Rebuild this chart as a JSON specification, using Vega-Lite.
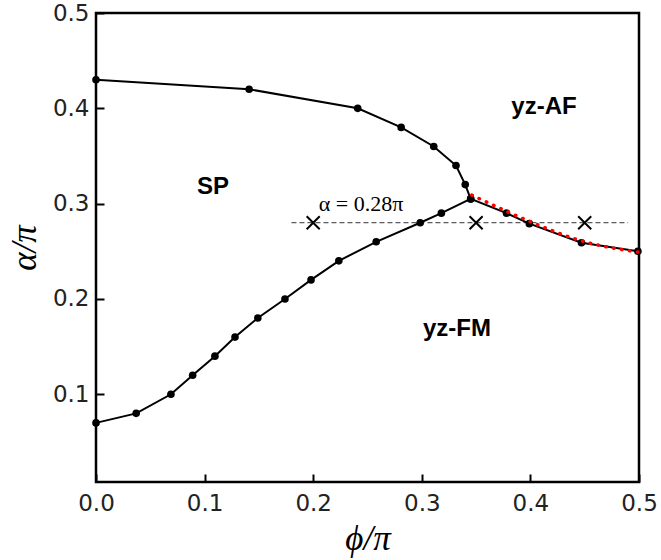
{
  "$schema": "https://vega.github.io/schema/vega-lite/v6.json",
  "width": 543,
  "height": 469,
  "autosize": {"type": "none"},
  "padding": {"left": 96, "top": 13, "right": 22, "bottom": 78},
  "background": "white",
  "config": {
    "view": {"stroke": "black", "strokeWidth": 2.5},
    "axis": {
      "grid": false,
      "domain": false,
      "tickSize": -8,
      "tickWidth": 2,
      "tickColor": "black",
      "labelFont": "DejaVu Sans",
      "labelFontSize": 23,
      "labelColor": "#222222",
      "labelFlush": false,
      "labelOverlap": false,
      "titleFont": "Liberation Serif",
      "titleFontStyle": "italic",
      "titleFontWeight": "normal",
      "titleFontSize": 35,
      "titleColor": "black"
    }
  },
  "datasets": {
    "boundary": [
      {"branch": "upper", "phi": 0.0, "alpha": 0.43},
      {"branch": "upper", "phi": 0.141, "alpha": 0.42},
      {"branch": "upper", "phi": 0.241, "alpha": 0.40},
      {"branch": "upper", "phi": 0.281, "alpha": 0.38},
      {"branch": "upper", "phi": 0.311, "alpha": 0.36},
      {"branch": "upper", "phi": 0.3315, "alpha": 0.34},
      {"branch": "upper", "phi": 0.340, "alpha": 0.32},
      {"branch": "upper", "phi": 0.345, "alpha": 0.305},
      {"branch": "lower", "phi": 0.0, "alpha": 0.07},
      {"branch": "lower", "phi": 0.037, "alpha": 0.08},
      {"branch": "lower", "phi": 0.069, "alpha": 0.10},
      {"branch": "lower", "phi": 0.089, "alpha": 0.12},
      {"branch": "lower", "phi": 0.1095, "alpha": 0.14},
      {"branch": "lower", "phi": 0.128, "alpha": 0.16},
      {"branch": "lower", "phi": 0.149, "alpha": 0.18},
      {"branch": "lower", "phi": 0.174, "alpha": 0.20},
      {"branch": "lower", "phi": 0.198, "alpha": 0.22},
      {"branch": "lower", "phi": 0.2236, "alpha": 0.24},
      {"branch": "lower", "phi": 0.258, "alpha": 0.26},
      {"branch": "lower", "phi": 0.2985, "alpha": 0.28},
      {"branch": "lower", "phi": 0.318, "alpha": 0.29},
      {"branch": "lower", "phi": 0.345, "alpha": 0.305},
      {"branch": "lower", "phi": 0.378, "alpha": 0.29},
      {"branch": "lower", "phi": 0.399, "alpha": 0.279},
      {"branch": "lower", "phi": 0.447, "alpha": 0.259},
      {"branch": "lower", "phi": 0.499, "alpha": 0.25}
    ],
    "fit": [
      {"phi": 0.346, "alpha": 0.309},
      {"phi": 0.378, "alpha": 0.292},
      {"phi": 0.40, "alpha": 0.281},
      {"phi": 0.447, "alpha": 0.261},
      {"phi": 0.5, "alpha": 0.249}
    ],
    "cuts": [
      {"phi": 0.2, "alpha": 0.28},
      {"phi": 0.35, "alpha": 0.28},
      {"phi": 0.45, "alpha": 0.28}
    ],
    "guide": [
      {"phi": 0.18, "phi2": 0.49, "alpha": 0.28}
    ],
    "regions": [
      {"label": "SP", "phi": 0.1077, "alpha": 0.317},
      {"label": "yz-AF", "phi": 0.4125, "alpha": 0.401},
      {"label": "yz-FM", "phi": 0.3324, "alpha": 0.168}
    ],
    "note": [
      {"label": "α = 0.28π", "phi": 0.244, "alpha": 0.3}
    ]
  },
  "encoding": {
    "x": {
      "field": "phi",
      "type": "quantitative",
      "scale": {"domain": [0, 0.5], "nice": false, "zero": false},
      "axis": {"values": [0, 0.1, 0.2, 0.3, 0.4, 0.5], "format": ".1f", "labelPadding": 18, "title": "ϕ/π", "titlePadding": 6}
    },
    "y": {
      "field": "alpha",
      "type": "quantitative",
      "scale": {"domain": [0.008, 0.5], "nice": false, "zero": false},
      "axis": {"values": [0.1, 0.2, 0.3, 0.4, 0.5], "format": ".1f", "labelPadding": 15, "title": "α/π", "titlePadding": 10}
    }
  },
  "layer": [
    {
      "data": {"name": "guide"},
      "mark": {"type": "rule", "color": "#333333", "strokeWidth": 1, "strokeDash": [5, 3]},
      "encoding": {"x2": {"field": "phi2"}}
    },
    {
      "data": {"name": "boundary"},
      "mark": {"type": "line", "color": "black", "strokeWidth": 2, "point": {"filled": true, "color": "black", "size": 58, "opacity": 1}},
      "encoding": {"detail": {"field": "branch"}}
    },
    {
      "data": {"name": "fit"},
      "mark": {"type": "line", "color": "#ff0000", "strokeWidth": 3.5, "strokeCap": "round", "strokeDash": [0.5, 7.5], "interpolate": "monotone"},
      "encoding": {}
    },
    {
      "data": {"name": "cuts"},
      "mark": {"type": "point", "shape": "M-1,-1L1,1M-1,1L1,-1", "filled": false, "color": "black", "strokeWidth": 2, "size": 170, "opacity": 1}
    },
    {
      "data": {"name": "regions"},
      "mark": {"type": "text", "font": "Liberation Sans", "fontWeight": "bold", "fontSize": 24, "color": "black", "baseline": "middle", "align": "center"},
      "encoding": {"text": {"field": "label"}}
    },
    {
      "data": {"name": "note"},
      "mark": {"type": "text", "font": "Liberation Serif", "fontSize": 22, "color": "black", "baseline": "middle", "align": "center"},
      "encoding": {"text": {"field": "label"}}
    }
  ]
}
